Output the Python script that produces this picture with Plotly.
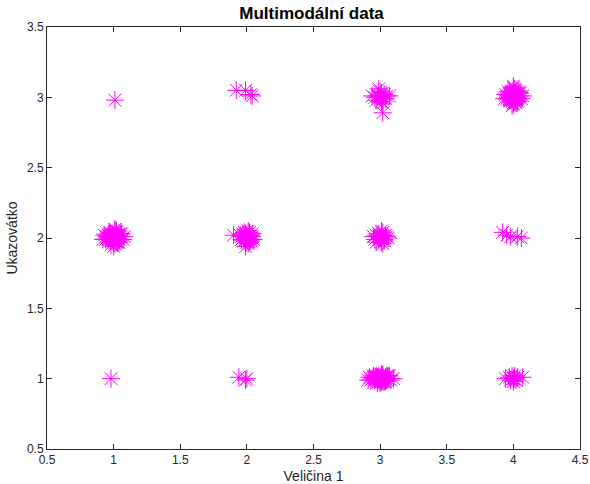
import plotly.graph_objects as go

# Cluster point data
c13_x = [1.01]
c13_y = [2.98]
c23_x = [1.92, 1.99, 2.04, 2.03]
c23_y = [3.05, 3.05, 3.01, 3.02]
c33_x = [2.98, 3.02, 3.00, 3.05, 2.96, 3.01, 3.03, 2.99, 3.07, 2.97, 3.00, 3.02, 2.94, 3.04, 3.01, 2.99, 3.02]
c33_y = [3.01, 2.99, 3.04, 3.01, 3.00, 2.97, 3.02, 3.06, 3.01, 2.98, 3.00, 2.96, 3.01, 2.99, 3.03, 3.01, 2.89]
c43_x = [4.01, 3.97, 4.03, 3.99, 4.05, 3.95, 4.02, 4.00, 3.98, 4.04, 3.96, 4.01, 4.06, 3.94, 4.00,
         4.02, 3.99, 4.03, 3.97, 4.01, 4.00, 3.98, 4.04, 4.02, 3.96, 4.00, 4.07, 3.93, 4.01, 3.99,
         4.03, 3.98, 4.02, 4.00, 3.97, 4.05, 4.01, 3.99, 4.02, 3.96, 4.00, 4.03, 3.98, 4.01, 4.00]
c43_y = [3.00, 3.02, 2.98, 3.04, 3.01, 2.99, 3.05, 2.96, 3.01, 3.03, 3.00, 2.97, 2.99, 3.02, 3.07,
         3.01, 2.94, 3.00, 3.03, 3.02, 2.99, 2.98, 3.04, 2.96, 3.01, 3.00, 3.01, 2.99, 3.06, 3.02,
         2.97, 3.00, 3.01, 2.95, 2.99, 3.03, 3.02, 3.01, 2.98, 3.04, 3.00, 2.99, 3.02, 2.97, 3.08]
c12_x = [1.00, 0.96, 1.03, 0.99, 1.05, 0.94, 1.02, 1.01, 0.97, 1.04, 0.95, 1.00, 1.07, 0.93, 1.01,
         1.03, 0.98, 1.02, 0.96, 1.00, 1.01, 0.99, 1.05, 1.03, 0.95, 0.99, 1.08, 0.92, 1.02, 0.98,
         1.04, 0.97, 1.01, 1.00, 0.96, 1.06, 1.02, 0.98, 1.03, 0.97, 1.00, 1.04, 0.99, 1.02, 1.01]
c12_y = [2.00, 2.02, 1.98, 2.03, 2.01, 1.99, 2.05, 1.96, 2.01, 2.02, 2.00, 1.97, 1.99, 2.02, 2.06,
         2.01, 1.95, 2.00, 2.03, 2.02, 1.99, 1.98, 2.03, 1.97, 2.01, 2.00, 2.01, 1.99, 2.04, 2.02,
         1.97, 2.00, 2.01, 1.94, 1.99, 2.03, 2.02, 2.01, 1.98, 2.04, 2.00, 1.99, 2.02, 1.97, 2.06]
c22_x = [2.00, 1.97, 2.03, 1.99, 2.04, 1.96, 2.02, 2.01, 1.98, 2.03, 1.90, 2.00, 2.05, 1.95, 2.01,
         2.02, 1.99, 2.01, 1.97, 2.00, 2.00, 1.98, 2.04, 2.02, 1.96, 1.99, 2.01, 2.03, 1.98, 2.00]
c22_y = [2.00, 2.02, 1.98, 2.03, 2.01, 1.99, 2.04, 1.96, 2.01, 2.02, 2.02, 1.97, 1.99, 2.02, 2.05,
         2.01, 1.94, 2.00, 2.03, 2.02, 1.99, 1.98, 2.03, 1.97, 2.01, 2.00, 2.01, 1.99, 2.04, 2.02]
c32_x = [3.00, 2.97, 3.03, 2.99, 3.05, 2.96, 3.02, 3.01, 2.98, 3.04, 3.00, 3.06, 2.95, 3.01, 3.02,
         2.99, 3.01, 2.97, 3.00, 3.03]
c32_y = [2.00, 2.02, 1.98, 2.03, 2.01, 1.99, 2.04, 1.97, 2.01, 2.02, 2.00, 2.00, 2.01, 2.05, 1.96,
         1.99, 2.02, 1.97, 2.01, 1.99]
c42_x = [3.92, 3.95, 3.98, 4.03, 4.06]
c42_y = [2.04, 2.02, 2.01, 2.01, 2.00]
c11_x = [0.98]
c11_y = [1.00]
c21_x = [1.94, 2.00, 1.99]
c21_y = [1.01, 1.00, 0.99]
c31_x = [3.00, 2.96, 3.03, 2.99, 3.06, 2.93, 3.02, 3.01, 2.97, 3.05, 2.94, 3.00, 3.08, 2.92, 3.01,
         3.04, 2.98, 3.02, 2.95, 3.00, 3.01, 2.99, 3.07, 3.03, 2.95, 2.99, 3.10, 2.91, 3.02, 2.98,
         3.04, 2.97, 3.01, 3.00, 2.96, 3.06, 3.02, 2.98, 3.03, 2.97, 3.00, 3.05, 2.99, 3.02, 3.01]
c31_y = [1.00, 1.01, 0.99, 1.02, 1.00, 0.99, 1.03, 0.98, 1.01, 1.02, 1.00, 0.98, 0.99, 1.01, 1.03,
         1.01, 0.97, 1.00, 1.02, 1.01, 0.99, 0.99, 1.02, 0.98, 1.01, 1.00, 1.00, 0.99, 1.02, 1.01,
         0.98, 1.00, 1.01, 0.97, 0.99, 1.02, 1.01, 1.00, 0.99, 1.02, 1.00, 0.99, 1.01, 0.98, 1.03]
c41_x = [4.00, 3.97, 4.02, 3.99, 4.01, 3.94, 4.03, 4.00, 4.07, 3.98, 4.01, 4.00]
c41_y = [1.00, 1.01, 0.99, 1.02, 1.00, 1.00, 1.01, 0.98, 1.01, 0.99, 1.02, 1.00]

tick_vals = [0.5, 1, 1.5, 2, 2.5, 3, 3.5, 4, 4.5]
tick_text = ["0.5", "1", "1.5", "2", "2.5", "3", "3.5", "4", "4.5"]

xs = c13_x + c23_x + c33_x + c43_x + c12_x + c22_x + c32_x + c42_x + c11_x + c21_x + c31_x + c41_x
ys = c13_y + c23_y + c33_y + c43_y + c12_y + c22_y + c32_y + c42_y + c11_y + c21_y + c31_y + c41_y

FONT = "Liberation Sans, Arial, sans-serif"

fig = go.Figure()
fig.add_trace(go.Scatter(
    x=xs, y=ys, mode="markers",
    marker=dict(symbol="asterisk-open", size=15, color="#FF00FF",
                line=dict(color="#FF00FF", width=1)),
    showlegend=False, cliponaxis=False,
))

axis_common = dict(
    showgrid=False, zeroline=False, showline=True, linecolor="#262626", linewidth=1,
    mirror="ticks", ticks="inside", ticklen=5, tickcolor="#262626", automargin=False,
    tickfont=dict(family=FONT, size=12, color="#262626"),
    tickvals=tick_vals, ticktext=tick_text,
)
fig.update_xaxes(range=[0.5, 4.5], title=dict(text="Veličina 1", standoff=4,
                 font=dict(family=FONT, size=14, color="#262626")),
                 **axis_common)
fig.update_yaxes(range=[0.5, 3.5], title=dict(text="Ukazovátko", standoff=6,
                 font=dict(family=FONT, size=14, color="#262626")),
                 **axis_common)

fig.update_layout(
    width=590, height=484,
    margin=dict(l=47, r=10, t=27, b=35, autoexpand=False),
    paper_bgcolor="white", plot_bgcolor="white",
    title=dict(text="<b>Multimodální data</b>", x=0.528, xanchor="center", y=0.985, yanchor="top",
               font=dict(family=FONT, size=17, color="black")),
)

fig.write_html("out.html", config={"displayModeBar": False},
               post_script="document.body.style.margin='0px';document.body.style.overflow='hidden';")
